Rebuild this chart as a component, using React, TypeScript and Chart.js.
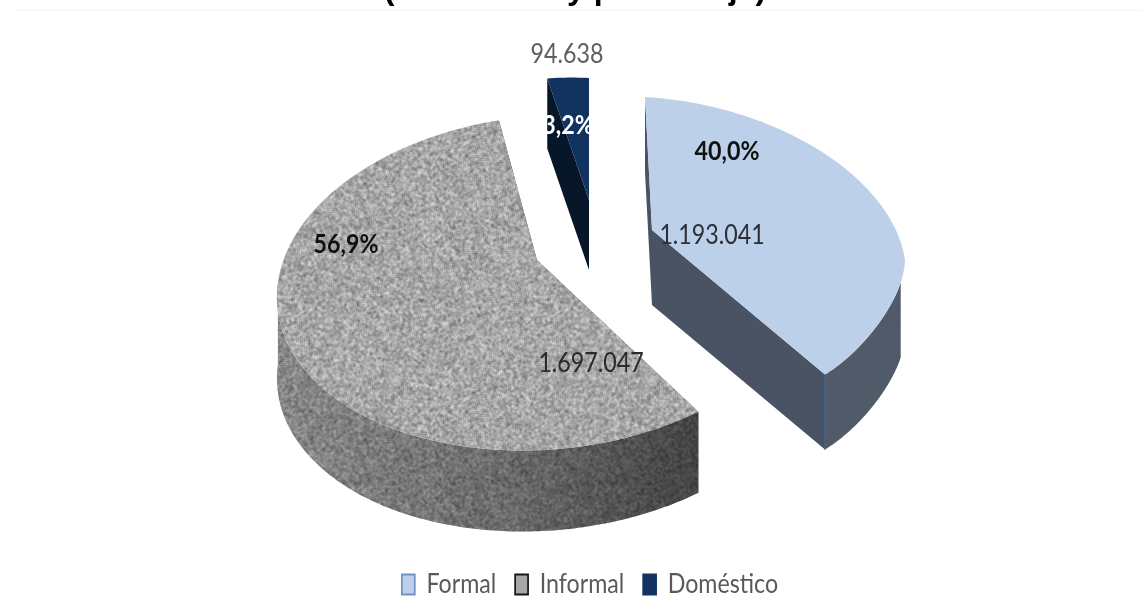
import React, { useEffect, useRef } from "react";
import { Chart, registerables } from "chart.js";

Chart.register(...registerables);

const categories = ["Formal", "Informal", "Doméstico"];
const workers = [1193041, 1697047, 94638];
const titleText = "(en número y porcentaje)";

const WIDTH = 1143;
const HEIGHT = 596;
const OVERHANG = 40; // the title sits partly above the visible page
const TEXT_SQUEEZE = 0.86; // Lato drawn narrower, for a condensed look

const sliceFill = ["#BDD0E9", "#A6A6A6", "#12335F"];
const sliceBorder = ["#6F93C4", "#161616", "#12335F"];

const LABEL_FONT = "Lato, 'Liberation Sans', sans-serif";

// Ellipse of each exploded slice on the page, in draw order of the dataset.
// pinch flattens the rim between the two window angles; wallStart is where the
// outer wall becomes visible.
const solids = [
  { apexX: 652, apexY: 230, cx: 667, cy: 246, a: 238, b: 149, kx: 22, ky: -14, depth: 75, pinch: 10, wallStart: 1.745 },
  { apexX: 537, apexY: 260, cx: 545.5, cy: 282.5, a: 268.5, b: 167.7, kx: -6.7, ky: 10.5, depth: 81, pinch: 0, wallStart: 1.571 },
  { apexX: 589, apexY: 200, cx: 589, cy: 200, a: 211, b: 122, kx: 0, ky: -10, depth: 70, pinch: 0, wallStart: 1.571 },
];
const PINCH_FROM = 1.571;
const PINCH_TO = 2.513;

const valueLabels = [
  { x: 712, y: 235, color: "#2B2F36" },
  { x: 591, y: 363, color: "#2A2A2A" },
  { x: 567, y: 54, color: "#5F5F5F" },
];
const shareLabels = [
  { x: 727, y: 151, color: "#111111" },
  { x: 346, y: 244, color: "#111111" },
  { x: 568, y: 125, color: "#FFFFFF" },
];

const thousands = (n: number) => String(n).replace(/\B(?=(\d{3})+$)/g, ".");
const percent = (n: number, total: number) => ((n / total) * 100).toFixed(1).replace(".", ",") + "%";

// Granite-like surface used on the Informal slice.
function graniteTile(): HTMLCanvasElement {
  const size = 256;
  const tile = document.createElement("canvas");
  tile.width = size;
  tile.height = size;
  const c = tile.getContext("2d")!;
  let seed = 20231;
  const next = () => {
    seed = (seed * 1664525 + 1013904223) >>> 0;
    return seed / 4294967296;
  };
  const img = c.createImageData(size, size);
  const cell = new Float32Array(size * size);
  for (let i = 0; i < cell.length; i++) cell[i] = next();
  for (let y = 0; y < size; y++) {
    for (let x = 0; x < size; x++) {
      let sum = 0;
      for (let dy = 0; dy < 3; dy++) {
        for (let dx = 0; dx < 3; dx++) {
          sum += cell[((y + dy) % size) * size + ((x + dx) % size)];
        }
      }
      const v = 166 + (sum / 9 - 0.5) * 160;
      const i = (y * size + x) * 4;
      img.data[i] = v;
      img.data[i + 1] = v;
      img.data[i + 2] = v;
      img.data[i + 3] = 255;
    }
  }
  c.putImageData(img, 0, 0);
  return tile;
}

type Solid = (typeof solids)[number];
const rimPoint = (s: Solid, t: number) => {
  const inWindow = s.pinch > 0 && t > PINCH_FROM && t < PINCH_TO;
  const m = inWindow ? s.pinch * Math.sin((Math.PI * (t - PINCH_FROM)) / (PINCH_TO - PINCH_FROM)) : 0;
  return {
    x: s.cx + s.a * Math.sin(t) - s.kx * Math.cos(t) - m * 0.82,
    y: s.cy - s.b * Math.cos(t) - s.ky * Math.sin(t) - m * 0.57 + OVERHANG,
  };
};

function traceRim(ctx: CanvasRenderingContext2D, s: Solid, from: number, to: number, dy: number, first: boolean) {
  const steps = Math.max(2, Math.ceil(Math.abs(to - from) * 60));
  for (let i = 0; i <= steps; i++) {
    const p = rimPoint(s, from + ((to - from) * i) / steps);
    if (i === 0 && first) ctx.moveTo(p.x, p.y + dy);
    else ctx.lineTo(p.x, p.y + dy);
  }
}

function squeezedText(ctx: CanvasRenderingContext2D, text: string, x: number, y: number) {
  ctx.save();
  ctx.translate(x, y);
  ctx.scale(TEXT_SQUEEZE, 1);
  ctx.fillText(text, 0, 0);
  ctx.restore();
}

const solidPie = {
  id: "solidPie",
  afterLayout(chart: any) {
    // Legend row is centred under the right-hand part of the figure.
    const legend = chart.legend;
    legend.left += 15;
    legend.right += 15;
    legend.top = HEIGHT + OVERHANG - legend.height + 12;
    legend.bottom = legend.top + legend.height;
    if (!legend.__squeezed) {
      legend.__squeezed = true;
      const drawLegend = legend.draw;
      legend.draw = function (...args: any[]) {
        const ctx = chart.ctx;
        const mid = (legend.left + legend.right) / 2;
        ctx.save();
        ctx.translate(mid, 0);
        ctx.scale(TEXT_SQUEEZE, 1);
        ctx.translate(-mid, 0);
        drawLegend.apply(legend, args);
        ctx.restore();
      };
    }
  },
  beforeDraw(chart: any) {
    // Faint upper edge of the chart frame.
    const ctx = chart.ctx;
    ctx.fillStyle = "#F6F6F6";
    ctx.fillRect(14, 10 + OVERHANG, WIDTH - 14, 1);
  },
  beforeDatasetDraw(chart: any) {
    const ctx: CanvasRenderingContext2D = chart.ctx;
    const arcs = chart.getDatasetMeta(0).data;
    const total = workers.reduce((p, v) => p + v, 0);
    const pattern = ctx.createPattern(graniteTile(), "repeat")!;

    const wallStyles: Array<() => void> = [
      () => {
        ctx.fillStyle = "#505A69";
        ctx.fill();
      },
      () => {
        ctx.fillStyle = pattern;
        ctx.fill();
        const g = ctx.createLinearGradient(277, 0, 698, 0);
        g.addColorStop(0, "rgba(0,0,0,0.18)");
        g.addColorStop(0.55, "rgba(0,0,0,0.36)");
        g.addColorStop(1, "rgba(0,0,0,0.6)");
        ctx.fillStyle = g;
        ctx.fill();
      },
      () => {
        ctx.fillStyle = "#0A1A30";
        ctx.fill();
      },
    ];
    const faceColors = ["#495363", "#555555", "#08162A"];

    arcs.forEach((arc: any, i: number) => {
      const s = solids[i];
      const start = arc.startAngle + Math.PI / 2;
      const end = arc.endAngle + Math.PI / 2;
      const apex = { x: s.apexX, y: s.apexY + OVERHANG };

      // Cut faces run from the apex to either end of the rim.
      [start, end].forEach((t) => {
        const p = rimPoint(s, t);
        ctx.beginPath();
        ctx.moveTo(apex.x, apex.y);
        ctx.lineTo(p.x, p.y);
        ctx.lineTo(p.x, p.y + s.depth);
        ctx.lineTo(apex.x, apex.y + s.depth);
        ctx.closePath();
        ctx.fillStyle = faceColors[i];
        ctx.fill();
      });

      // Outer wall, only on the part of the rim that faces the viewer.
      const wallFrom = Math.max(start, s.wallStart);
      const wallTo = Math.min(end, (Math.PI * 3) / 2 + 0.06);
      if (wallTo > wallFrom) {
        ctx.beginPath();
        traceRim(ctx, s, wallFrom, wallTo, 0, true);
        traceRim(ctx, s, wallTo, wallFrom, s.depth, false);
        ctx.closePath();
        wallStyles[i]();
      }

      // Top surface.
      ctx.beginPath();
      ctx.moveTo(apex.x, apex.y);
      traceRim(ctx, s, start, end, 0, false);
      ctx.closePath();
      ctx.fillStyle = i === 1 ? pattern : sliceFill[i];
      ctx.fill();

      if (i === 0) {
        // Seam where the cut face meets the outer wall.
        const corner = rimPoint(s, end);
        ctx.beginPath();
        ctx.moveTo(corner.x, corner.y);
        ctx.lineTo(corner.x, corner.y + s.depth);
        ctx.strokeStyle = "#45638A";
        ctx.lineWidth = 1.5;
        ctx.stroke();
      }
    });

    // Value and share labels.
    ctx.textAlign = "center";
    ctx.textBaseline = "middle";
    workers.forEach((v, i) => {
      ctx.font = `27px ${LABEL_FONT}`;
      ctx.fillStyle = valueLabels[i].color;
      squeezedText(ctx, thousands(v), valueLabels[i].x, valueLabels[i].y + OVERHANG);
      ctx.font = `bold 27px ${LABEL_FONT}`;
      ctx.fillStyle = shareLabels[i].color;
      squeezedText(ctx, percent(v, total), shareLabels[i].x, shareLabels[i].y + OVERHANG);
    });
    return false; // the solid replaces the flat arcs
  },
};

export default function App() {
  const ref = useRef<HTMLCanvasElement>(null);

  useEffect(() => {
    const chart = new Chart(ref.current!, {
      type: "pie",
      data: {
        labels: categories,
        datasets: [
          {
            data: workers,
            backgroundColor: sliceFill,
            borderColor: sliceBorder,
            borderWidth: 2,
          },
        ],
      },
      options: {
        responsive: false,
        animation: false,
        layout: { padding: { left: 7 } },
        plugins: {
          tooltip: { enabled: false },
          title: {
            display: true,
            text: titleText,
            color: "#000000",
            font: { family: "'Liberation Sans', Arial, sans-serif", size: 32, weight: "bold" },
            padding: { top: 11, bottom: 0 },
          },
          legend: {
            position: "bottom",
            labels: {
              boxWidth: 15,
              boxHeight: 20,
              padding: 22,
              color: "#5A5A5A",
              font: { family: LABEL_FONT, size: 27 },
            },
          },
        },
      },
      plugins: [solidPie],
    } as any);
    return () => chart.destroy();
  }, []);

  return (
    <div style={{ position: "fixed", inset: 0, overflow: "hidden", background: "#fff" }}>
      <canvas
        ref={ref}
        width={WIDTH}
        height={HEIGHT + OVERHANG}
        style={{ position: "absolute", left: 0, top: -OVERHANG, display: "block" }}
      />
    </div>
  );
}
